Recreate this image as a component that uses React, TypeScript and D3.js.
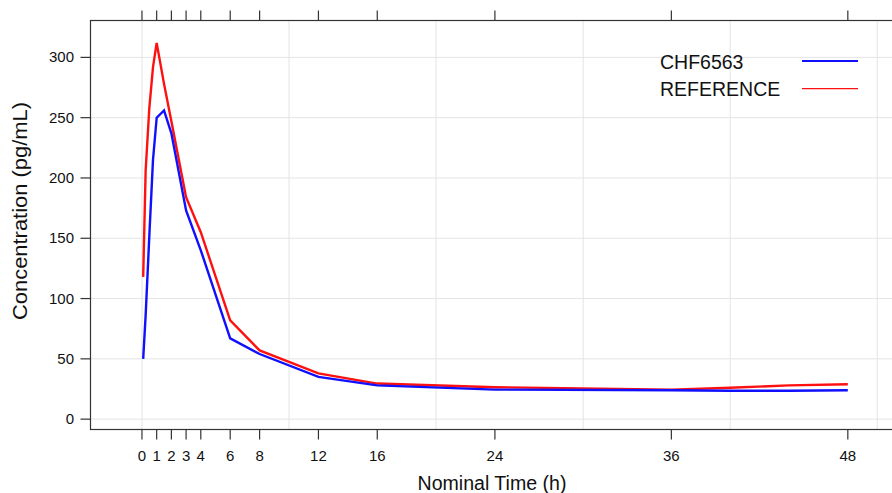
import React from 'react';
import * as d3 from 'd3';

// nominal sampling times (h) and mean concentrations (pg/mL)
const times = [0.083, 0.25, 0.5, 0.75, 1, 1.5, 2, 3, 4, 6, 8, 12, 16, 24, 36, 40, 44, 48];
const chfValues = [50, 86, 152, 215, 250, 256, 237, 173, 140, 67, 54, 35, 28, 24.5, 24, 23.5, 23.5, 24];
const refValues = [118, 206, 258, 292, 312, 278, 247, 184, 155, 82, 57, 38, 29.5, 26.5, 24.5, 26, 28, 29];

const xTicks = [0, 1, 2, 3, 4, 6, 8, 12, 16, 24, 36, 48];
const xGrid = [0, 10, 20, 30, 40, 50];
const yTicks = [0, 50, 100, 150, 200, 250, 300];

const seriesNames = ['CHF6563', 'REFERENCE'];
const seriesColors = ['#1010ff', '#ff1010'];

const W = 892;
const H = 493;
const FONT = 'Liberation Sans, Arial, Helvetica, sans-serif';

export default function App() {
  const x = d3.scaleLinear().domain([-3.5, 52.5]).range([90.5, 914]);
  const y = d3.scaleLinear().domain([-9, 331]).range([430, 20]);

  const line = d3
    .line<number>()
    .x((_, i) => x(times[i]))
    .y((d) => y(d));

  const series = [chfValues, refValues];
  const left = 90.5;
  const top = 20.5;
  const bottom = 429.5;
  const right = 914;

  return (
    <svg width={W} height={H} style={{ position: 'absolute', left: 0, top: 0, background: '#fff' }}>
      <rect x={0} y={0} width={W} height={H} fill="#fff" />

      {/* grid */}
      <g stroke="#e4e4e4" strokeWidth={1}>
        {xGrid.map((t) => (
          <line key={'gx' + t} x1={x(t)} x2={x(t)} y1={top} y2={bottom} />
        ))}
        {yTicks.map((v) => (
          <line key={'gy' + v} x1={left} x2={right} y1={y(v)} y2={y(v)} />
        ))}
      </g>

      {/* series lines */}
      {[1, 0].map((k) => (
        <path
          key={seriesNames[k]}
          d={line(series[k]) || ''}
          fill="none"
          stroke={seriesColors[k]}
          strokeWidth={2.4}
          strokeLinejoin="miter"
        />
      ))}

      {/* frame */}
      <rect x={left} y={top} width={right - left} height={bottom - top} fill="none" stroke="#333" strokeWidth={1.2} />

      {/* x ticks bottom and top */}
      <g stroke="#333" strokeWidth={1.2}>
        {xTicks.map((t) => (
          <g key={'xt' + t}>
            <line x1={x(t)} x2={x(t)} y1={bottom} y2={bottom + 10} />
            <line x1={x(t)} x2={x(t)} y1={top} y2={top - 10} />
          </g>
        ))}
        {yTicks.map((v) => (
          <line key={'yt' + v} x1={left - 10} x2={left} y1={y(v)} y2={y(v)} />
        ))}
      </g>

      <g fontFamily={FONT} fontSize={15} fill="#111">
        {xTicks.map((t) => (
          <text key={'xl' + t} x={x(t)} y={460.5} textAnchor="middle">
            {t}
          </text>
        ))}
        {yTicks.map((v) => (
          <text key={'yl' + v} x={74} y={y(v) + 5} textAnchor="end">
            {v}
          </text>
        ))}
      </g>

      {/* axis titles */}
      <text
        x={492}
        y={490}
        textAnchor="middle"
        fontFamily={FONT}
        fontSize={20}
        fill="#111"
        textLength={149}
        lengthAdjust="spacingAndGlyphs"
      >
        Nominal Time (h)
      </text>
      <text
        transform={`translate(27, 211) rotate(-90)`}
        textAnchor="middle"
        fontFamily={FONT}
        fontSize={20}
        fill="#111"
        textLength={218}
        lengthAdjust="spacingAndGlyphs"
      >
        Concentration (pg/mL)
      </text>

      {/* legend */}
      {seriesNames.map((name, i) => (
        <g key={'lg' + name}>
          <text x={660} y={68.5 + i * 27.4} fontFamily={FONT} fontSize={19.5} fill="#111">
            {name}
          </text>
          <line
            x1={802}
            x2={858}
            y1={61 + i * 27.6}
            y2={61 + i * 27.6}
            stroke={seriesColors[i]}
            strokeWidth={i === 0 ? 2 : 1.2}
          />
        </g>
      ))}
    </svg>
  );
}
